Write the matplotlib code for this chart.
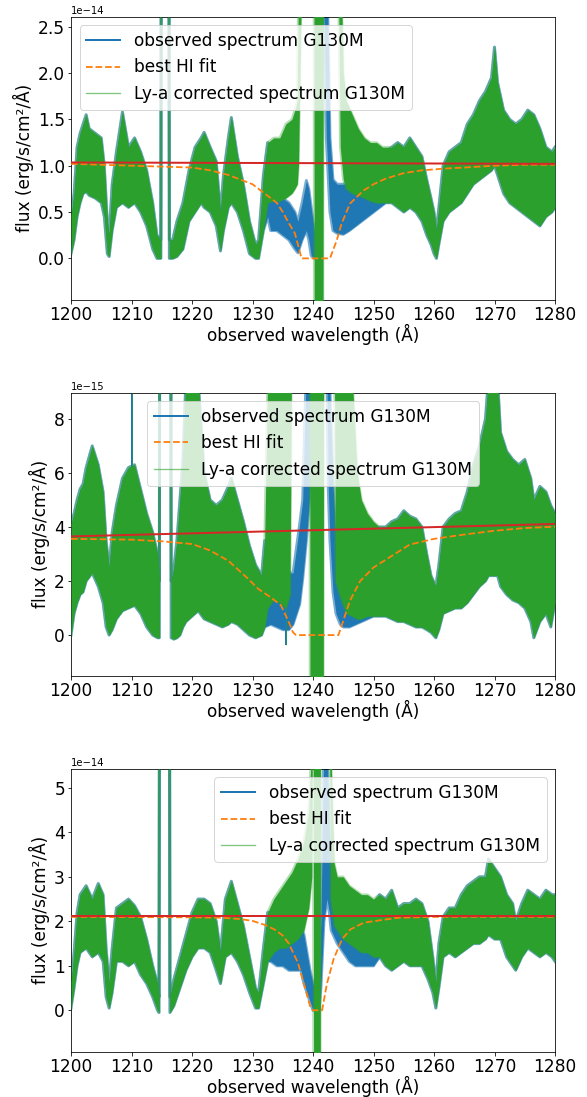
import numpy as np
import matplotlib.pyplot as plt

# ---------------- panel 1 (flux in units of 1e-14) ----------------
p1_wl = [1200.0, 1200.5, 1201.0, 1201.5, 1202.0, 1202.5, 1203.0, 1204.0, 1205.0, 1205.5,
         1206.0, 1206.3, 1206.8, 1207.5, 1208.5, 1209.5, 1210.5, 1211.5, 1212.5, 1213.5,
         1214.2, 1214.85, 1214.95, 1216.15, 1216.25, 1216.8, 1217.5, 1218.5, 1219.5, 1220.5,
         1221.5, 1222.0, 1223.0, 1224.0, 1224.7, 1225.2, 1226.0, 1226.5, 1227.5, 1228.5,
         1229.5, 1230.5, 1231.0, 1231.8, 1232.5, 1233.0, 1234.0, 1235.0, 1236.0, 1237.0,
         1237.5, 1238.2, 1238.9, 1239.3, 1239.7, 1240.2, 1241.0, 1241.7, 1242.2, 1242.8,
         1243.3, 1244.0, 1245.0, 1246.0, 1247.0, 1248.0, 1249.0, 1250.0, 1251.0, 1252.0,
         1253.0, 1254.0, 1255.0, 1256.0, 1257.0, 1258.0, 1258.8, 1259.5, 1260.0, 1260.4,
         1260.8, 1261.5, 1262.5, 1263.5, 1264.5, 1265.5, 1266.5, 1267.5, 1268.5, 1269.5,
         1270.0, 1270.5, 1271.5, 1272.5, 1273.5, 1274.5, 1275.5, 1276.5, 1277.5, 1278.5,
         1279.5, 1280.0]
p1_lo = [0.05, 0.2, 0.45, 0.6, 0.7, 0.72, 0.68, 0.65, 0.6, 0.45,
         0.05, 0.02, 0.3, 0.55, 0.6, 0.55, 0.6, 0.5, 0.35, 0.1,
         0.0, 0.0, 5.0, 5.0, 0.0, 0.0, 0.02, 0.1, 0.4, 0.5,
         0.6, 0.55, 0.5, 0.35, 0.08, 0.3, 0.55, 0.6, 0.5, 0.3,
         0.05, 0.0, 0.0, 0.3, 0.45, 0.3, 0.3, 0.25, 0.2, 0.1,
         0.06, 0.2, 0.3, 0.2, 0.03, 0.0, 0.0, 3.0, 1.3, 0.5,
         0.3, 0.27, 0.26, 0.3, 0.35, 0.4, 0.45, 0.5, 0.55, 0.6,
         0.6, 0.55, 0.5, 0.55, 0.5, 0.4, 0.25, 0.15, 0.05, 0.0,
         0.15, 0.4, 0.5, 0.55, 0.6, 0.7, 0.8, 0.85, 0.9, 0.95,
         1.0, 0.9, 0.7, 0.6, 0.55, 0.5, 0.45, 0.4, 0.35, 0.45,
         0.5, 0.55]
p1_hi = [0.45, 0.7, 1.2, 1.35, 1.45, 1.55, 1.4, 1.35, 1.3, 1.0,
         0.4, 0.25, 0.8, 1.15, 1.58, 1.2, 1.3, 1.15, 0.95, 0.6,
         0.25, 0.2, 6.0, 6.0, 0.2, 0.2, 0.4, 0.6, 0.95, 1.2,
         1.3, 1.36, 1.2, 1.05, 0.5, 0.9, 1.3, 1.52, 1.1, 0.8,
         0.4, 0.15, 0.2, 0.9, 1.25, 0.85, 0.75, 0.65, 0.6, 0.5,
         0.4, 0.6, 0.84, 0.75, 0.55, 0.3, 0.3, 3.5, 3.5, 1.3,
         0.85, 0.8, 0.8, 0.82, 0.85, 0.9, 0.95, 1.0, 1.1, 1.15,
         1.2, 1.25, 1.2, 1.3, 1.2, 1.1, 0.85, 0.65, 0.5, 0.3,
         0.55, 1.0, 1.15, 1.2, 1.25, 1.45, 1.55, 1.7, 1.8, 1.95,
         2.28, 1.9, 1.6, 1.5, 1.45, 1.5, 1.6, 1.55, 1.4, 1.2,
         1.15, 1.2]
# Ly-a corrected spectrum, only where it differs from the observed one
p1_cor_wl = [1231.8, 1232.5, 1233.5, 1234.5, 1235.5, 1236.5, 1237.0, 1237.4, 1237.6, 1238.1,
             1240.15, 1240.2, 1241.65, 1241.7, 1244.2, 1244.5, 1245.0, 1245.5, 1246.5, 1247.5,
             1248.5, 1249.5, 1250.5, 1251.5, 1252.0]
p1_cor_lo = [0.3, 0.6, 0.62, 0.62, 0.65, 0.7, 0.75, 0.8, 1.0, 3.0,
             3.0, -1.0, -1.0, 3.0, 3.0, 1.2, 0.85, 0.75, 0.7, 0.68,
             0.65, 0.62, 0.6, 0.6, 0.6]
p1_cor_hi = [0.9, 1.25, 1.3, 1.3, 1.45, 1.5, 1.6, 1.7, 3.0, 3.5,
             3.5, 3.5, 3.5, 3.5, 3.5, 3.5, 2.0, 1.7, 1.55, 1.4,
             1.3, 1.25, 1.25, 1.2, 1.2]
p1_fit_wl = [1200, 1205, 1210, 1215, 1220, 1223, 1226, 1228, 1230, 1232, 1234, 1235, 1236,
             1237, 1237.5, 1238.1, 1242.8, 1243.9, 1244.7, 1246.1, 1248.3, 1250, 1252, 1255,
             1258, 1262, 1265, 1270, 1275, 1280]
p1_fit = [1.02, 1.01, 1.0, 0.99, 0.98, 0.95, 0.9, 0.85, 0.8, 0.7, 0.6, 0.5, 0.38,
          0.27, 0.15, 0.0, 0.0, 0.19, 0.37, 0.59, 0.73, 0.8, 0.86, 0.92,
          0.95, 0.97, 0.98, 1.0, 1.01, 1.01]
p1_cont = [1.035, 1.02]
p1_spike_wl, p1_spike_lo, p1_spike_hi = [], [], []

# ---------------- panel 2 (flux in units of 1e-15) ----------------
p2_wl = [1200.0, 1200.5, 1201.0, 1201.5, 1202.0, 1202.5, 1203.5, 1204.5, 1205.3, 1205.8,
         1206.3, 1206.8, 1207.5, 1208.5, 1209.5, 1210.5, 1211.5, 1212.5, 1213.5, 1214.3,
         1214.6, 1214.7, 1216.45, 1216.55, 1217.0, 1217.5, 1218.0, 1218.5, 1219.0, 1220.0,
         1221.0, 1222.0, 1223.0, 1224.0, 1225.0, 1226.0, 1226.5, 1227.5, 1228.5, 1229.5,
         1230.5, 1231.5, 1232.0, 1233.0, 1234.0, 1235.0, 1236.0, 1236.7, 1237.8, 1238.3,
         1238.9, 1239.4, 1241.7, 1242.2, 1242.5, 1242.8, 1243.3, 1243.8, 1244.5, 1245.0,
         1246.0, 1247.0, 1248.0, 1249.0, 1250.0, 1251.0, 1252.0, 1253.0, 1254.0, 1255.0,
         1256.0, 1257.0, 1258.0, 1258.8, 1259.5, 1260.3, 1260.8, 1261.5, 1262.5, 1263.5,
         1264.5, 1265.5, 1266.5, 1267.5, 1268.5, 1269.0, 1270.5, 1271.0, 1272.0, 1273.0,
         1274.0, 1275.0, 1276.0, 1276.5, 1277.5, 1278.5, 1279.3, 1280.0]
p2_lo = [0.0, 0.8, 1.2, 1.5, 1.6, 2.0, 2.3, 1.8, 1.2, 0.3,
         0.0, 0.2, 0.6, 0.9, 1.0, 1.1, 0.8, 0.3, 0.0, -0.1,
         -0.1, 20.0, 20.0, -0.1, -0.15, -0.1, 0.0, 0.3, 0.5, 0.7,
         0.9, 0.6, 0.5, 0.4, 0.3, 0.4, 0.5, 0.4, 0.2, 0.0,
         -0.1, 0.0, 0.3, 0.4, 0.3, 0.2, 0.2, 0.4, 1.15, 2.1,
         3.5, 5.0, 12.0, 12.0, 5.6, 3.5, 1.6, 0.8, 0.4, 0.3,
         0.3, 0.4, 0.5, 0.6, 0.7, 0.7, 0.7, 0.6, 0.5, 0.5,
         0.4, 0.3, 0.3, 0.2, 0.1, -0.1, 0.2, 0.8, 0.9, 1.0,
         1.0, 1.2, 1.5, 1.8, 2.0, 2.2, 2.2, 1.8, 1.5, 1.3,
         1.2, 1.0, 0.5, -0.1, 0.5, 0.8, 0.3, 1.2]
p2_hi = [4.1, 4.5, 5.0, 5.4, 5.6, 6.2, 7.0, 6.3, 5.3, 3.5,
         2.5, 3.8, 4.8, 5.8, 6.2, 6.3, 5.4, 4.5, 3.8, 3.0,
         2.0, 25.0, 25.0, 2.0, 2.5, 3.5, 5.0, 6.5, 9.5, 9.5,
         9.5, 6.0, 5.0, 4.8, 5.0, 5.5, 5.8, 5.0, 4.2, 3.3,
         2.6, 2.2, 3.5, 3.5, 3.0, 2.6, 2.3, 2.3, 4.1, 5.0,
         10.0, 10.0, 15.0, 15.0, 10.0, 9.0, 5.6, 3.5, 2.2, 1.6,
         1.8, 2.5, 3.0, 3.4, 3.8, 4.0, 4.0, 4.2, 4.3, 4.6,
         4.4, 4.3, 4.0, 3.0, 2.2, 1.8, 2.6, 4.0, 4.3, 4.5,
         4.6, 5.3, 6.3, 7.0, 8.0, 9.5, 9.5, 7.5, 6.8, 6.5,
         6.3, 6.5, 5.8, 5.0, 5.5, 5.3, 4.8, 4.5]
p2_cor_wl = [1232.0, 1232.5, 1233.5, 1234.5, 1235.5, 1236.2, 1236.5, 1239.45, 1239.5, 1241.7,
             1241.75, 1243.5, 1243.7, 1244.5, 1245.5, 1246.5, 1247.3, 1248.0, 1249.0, 1250.0,
             1251.0, 1252.0]
p2_cor_lo = [0.3, 1.0, 1.3, 1.2, 1.0, 1.5, 12.0, 12.0, -3.0, -3.0,
             12.0, 12.0, 2.0, 1.4, 0.8, 0.7, 0.6, 0.6, 0.7, 0.7,
             0.7, 0.7]
p2_cor_hi = [3.5, 9.5, 9.5, 9.5, 9.5, 9.5, 15.0, 15.0, 15.0, 15.0,
             15.0, 15.0, 10.0, 9.5, 9.5, 9.5, 6.0, 5.0, 4.5, 4.2,
             4.0, 4.0]
p2_fit_wl = [1200, 1210, 1215, 1220, 1223, 1226, 1229, 1231, 1233, 1234.7, 1235.9, 1236.7,
             1237.2, 1244.2, 1245, 1246.1, 1247.8, 1250, 1252.8, 1256, 1260, 1265, 1270,
             1275, 1280]
p2_fit = [3.56, 3.53, 3.47, 3.37, 3.13, 2.75, 2.14, 1.7, 1.4, 1.1, 0.53, 0.1,
          0.0, 0.0, 0.53, 1.27, 2.0, 2.5, 2.9, 3.35, 3.56, 3.72, 3.86,
          3.96, 4.01]
p2_cont = [3.65, 4.11]
p2_spike_wl = [1210.0, 1220.9, 1235.6]
p2_spike_lo = [4.0, 3.0, -0.35]
p2_spike_hi = [10.0, 10.0, 1.5]

# ---------------- panel 3 (flux in units of 1e-14) ----------------
p3_wl = [1200.0, 1200.5, 1201.0, 1201.5, 1202.5, 1203.5, 1204.5, 1205.3, 1205.8, 1206.3,
         1206.8, 1207.5, 1208.5, 1209.5, 1210.5, 1211.5, 1212.5, 1213.5, 1214.3, 1214.55,
         1214.65, 1216.25, 1216.35, 1217.0, 1218.0, 1219.0, 1220.0, 1221.0, 1222.0, 1223.0,
         1224.0, 1224.7, 1225.5, 1226.5, 1227.5, 1228.5, 1229.5, 1230.5, 1231.0, 1231.8,
         1232.5, 1233.0, 1234.0, 1235.0, 1236.0, 1237.0, 1238.0, 1238.5, 1239.0, 1239.5,
         1240.0, 1240.5, 1241.0, 1241.3, 1241.8, 1242.3, 1242.7, 1243.0, 1244.0, 1245.0,
         1246.0, 1247.0, 1248.0, 1249.0, 1250.0, 1251.0, 1252.0, 1253.0, 1254.0, 1255.0,
         1256.0, 1257.0, 1258.0, 1259.0, 1259.8, 1260.3, 1260.8, 1261.5, 1262.5, 1263.5,
         1264.5, 1265.5, 1266.5, 1267.5, 1268.5, 1269.0, 1270.0, 1271.0, 1272.0, 1273.0,
         1273.5, 1274.5, 1275.5, 1276.5, 1277.5, 1278.5, 1279.5, 1280.0]
p3_lo = [0.05, 0.5, 1.0, 1.3, 1.4, 1.2, 1.3, 1.1, 0.3, 0.05,
         0.4, 1.1, 1.1, 1.0, 1.1, 0.8, 0.6, 0.3, 0.0, -0.05,
         10.0, 10.0, -0.05, 0.1, 0.5, 0.9, 1.2, 1.4, 1.4, 1.3,
         0.9, 0.6, 1.2, 1.3, 1.1, 0.8, 0.4, 0.05, 0.05, 0.6,
         1.1, 1.1, 1.0, 1.0, 0.9, 0.9, 0.9, 0.6, 0.4, 0.2,
         0.0, 0.0, 0.0, 0.5, 2.0, 2.5, 2.2, 1.8, 1.5, 1.3,
         1.1, 1.0, 1.0, 1.0, 1.0, 1.2, 1.0, 0.9, 1.0, 1.1,
         1.0, 1.0, 1.0, 0.7, 0.4, 0.05, 0.5, 1.2, 1.3, 1.2,
         1.3, 1.4, 1.5, 1.5, 1.6, 1.7, 1.6, 1.6, 1.2, 1.0,
         0.9, 1.2, 1.4, 1.3, 1.2, 1.3, 1.2, 1.1]
p3_hi = [0.6, 1.3, 2.2, 2.6, 2.8, 2.5, 2.85, 2.6, 1.4, 0.6,
         1.4, 2.3, 2.4, 2.5, 2.35, 2.1, 1.6, 1.0, 0.6, 0.3,
         12.0, 12.0, 0.3, 0.7, 1.2, 1.7, 2.2, 2.5, 2.5, 2.4,
         2.0, 1.3, 2.5, 2.9, 2.4, 1.9, 1.2, 0.5, 0.4, 1.4,
         2.2, 2.2, 2.2, 2.0, 2.0, 1.9, 1.9, 1.7, 1.3, 0.9,
         0.6, 0.4, 1.0, 2.0, 6.0, 6.0, 4.0, 2.8, 2.5, 2.3,
         2.3, 2.3, 2.4, 2.4, 2.4, 2.6, 2.5, 2.7, 2.3, 2.4,
         2.4, 2.5, 2.4, 2.0, 1.2, 0.6, 1.5, 2.1, 2.3, 2.3,
         2.6, 2.8, 2.9, 3.0, 3.0, 3.4, 3.2, 3.0, 2.6, 2.4,
         2.0, 2.4, 2.7, 2.6, 2.5, 2.7, 2.6, 2.6]
p3_cor_wl = [1232.5, 1233.5, 1234.5, 1235.5, 1236.5, 1237.5, 1238.5, 1239.3, 1239.8, 1240.0,
             1240.1, 1241.2, 1241.25, 1242.6, 1242.9, 1243.5, 1244.0, 1245.0, 1246.0, 1247.0,
             1248.0, 1249.0, 1250.0]
p3_cor_lo = [1.1, 1.3, 1.4, 1.4, 1.5, 1.6, 1.8, 2.3, 3.0, 10.0,
             -2.0, -2.0, 10.0, 10.0, 2.5, 1.9, 1.8, 1.6, 1.5, 1.4,
             1.3, 1.3, 1.2]
p3_cor_hi = [2.2, 2.5, 2.7, 2.9, 3.1, 3.4, 3.8, 4.5, 6.0, 12.0,
             12.0, 12.0, 12.0, 12.0, 6.0, 3.3, 3.0, 3.0, 2.8, 2.7,
             2.6, 2.6, 2.5]
p3_fit_wl = [1200, 1220, 1225, 1228, 1230, 1232, 1233.6, 1235, 1236, 1237.5, 1238.6, 1239.5,
             1240, 1241.5, 1242.3, 1243.4, 1244.8, 1246.2, 1248.4, 1254, 1260, 1280]
p3_fit = [2.1, 2.09, 2.08, 2.05, 2.01, 1.92, 1.82, 1.68, 1.5, 1.07, 0.55, 0.1,
          0.0, 0.0, 0.6, 1.15, 1.6, 1.82, 1.97, 2.08, 2.1, 2.1]
p3_cont = [2.12, 2.12]
p3_spike_wl, p3_spike_lo, p3_spike_hi = [], [], []

panels = [
    dict(wl=p1_wl, lo=p1_lo, hi=p1_hi, cwl=p1_cor_wl, clo=p1_cor_lo, chi=p1_cor_hi,
         fwl=p1_fit_wl, fit=p1_fit, cont=p1_cont, swl=p1_spike_wl, slo=p1_spike_lo,
         shi=p1_spike_hi, scale=1e-14, ylim=(-0.446, 2.608), loc='upper left'),
    dict(wl=p2_wl, lo=p2_lo, hi=p2_hi, cwl=p2_cor_wl, clo=p2_cor_lo, chi=p2_cor_hi,
         fwl=p2_fit_wl, fit=p2_fit, cont=p2_cont, swl=p2_spike_wl, slo=p2_spike_lo,
         shi=p2_spike_hi, scale=1e-15, ylim=(-1.5, 8.97), loc='upper center'),
    dict(wl=p3_wl, lo=p3_lo, hi=p3_hi, cwl=p3_cor_wl, clo=p3_cor_lo, chi=p3_cor_hi,
         fwl=p3_fit_wl, fit=p3_fit, cont=p3_cont, swl=p3_spike_wl, slo=p3_spike_lo,
         shi=p3_spike_hi, scale=1e-14, ylim=(-0.93, 5.43), loc='upper right'),
]

# drawn at 72 dpi so that 1 pt == 1 pixel
fs = 17
fig = plt.figure(figsize=(587 / 72, 1097 / 72), dpi=72)
bottoms = [0.7268, 0.3841, 0.0413]

for p, b in zip(panels, bottoms):
    ax = fig.add_axes([0.121, b, 0.8245, 0.258])
    s = p['scale']
    wl = np.array(p['wl'])
    lo = np.array(p['lo']) * s
    hi = np.array(p['hi']) * s

    # corrected spectrum: observed outside the absorption, corrected inside
    cwl = np.array(p['cwl'])
    left = wl < cwl[0]
    right = wl > cwl[-1]
    gwl = np.concatenate([wl[left], cwl, wl[right]])
    glo = np.concatenate([lo[left], np.array(p['clo']) * s, lo[right]])
    ghi = np.concatenate([hi[left], np.array(p['chi']) * s, hi[right]])

    # observed spectrum
    ax.fill_between(wl, lo, hi, color='tab:blue', lw=0, zorder=2)
    ax.plot(wl, hi, color='tab:blue', lw=3.0, alpha=0.6, zorder=2)
    ax.plot(wl, lo, color='tab:blue', lw=3.0, alpha=0.6, zorder=2)
    ax.plot([], [], color='tab:blue', lw=2.0, label='observed spectrum G130M')
    ax.vlines(p['swl'], np.array(p['slo']) * s, np.array(p['shi']) * s,
              color='tab:blue', lw=2.0, zorder=2)

    # HI fit
    ax.plot(p['fwl'], np.array(p['fit']) * s, '--', color='tab:orange', lw=1.8,
            zorder=4, label='best HI fit')

    # Ly-a corrected spectrum
    ax.fill_between(gwl, glo, ghi, color='tab:green', lw=0, zorder=3)
    ax.plot(gwl, ghi, color='tab:green', lw=2.5, alpha=0.35, zorder=3)
    ax.plot(gwl, glo, color='tab:green', lw=2.5, alpha=0.35, zorder=3)
    ax.plot([], [], color='tab:green', lw=1.3, alpha=0.6, label='Ly-a corrected spectrum G130M')
    ax.vlines(p['swl'], np.array(p['slo']) * s, np.array(p['shi']) * s,
              color='tab:green', lw=1.1, alpha=0.5, zorder=3)

    # continuum
    ax.plot([1200, 1280], np.array(p['cont']) * s, color='tab:red', lw=2.0, zorder=4.5)

    ax.set_xlim(1200, 1280)
    ax.set_ylim(p['ylim'][0] * s, p['ylim'][1] * s)
    ax.set_xticks(np.arange(1200, 1281, 10))
    ax.tick_params(labelsize=fs, pad=2.5)
    ax.set_xlabel('observed wavelength (Å)', fontsize=fs, labelpad=0)
    ax.set_ylabel('flux (erg/s/cm²/Å)', fontsize=fs)
    ax.legend(loc=p['loc'], fontsize=fs)

fig.savefig('out.png', dpi=72)
